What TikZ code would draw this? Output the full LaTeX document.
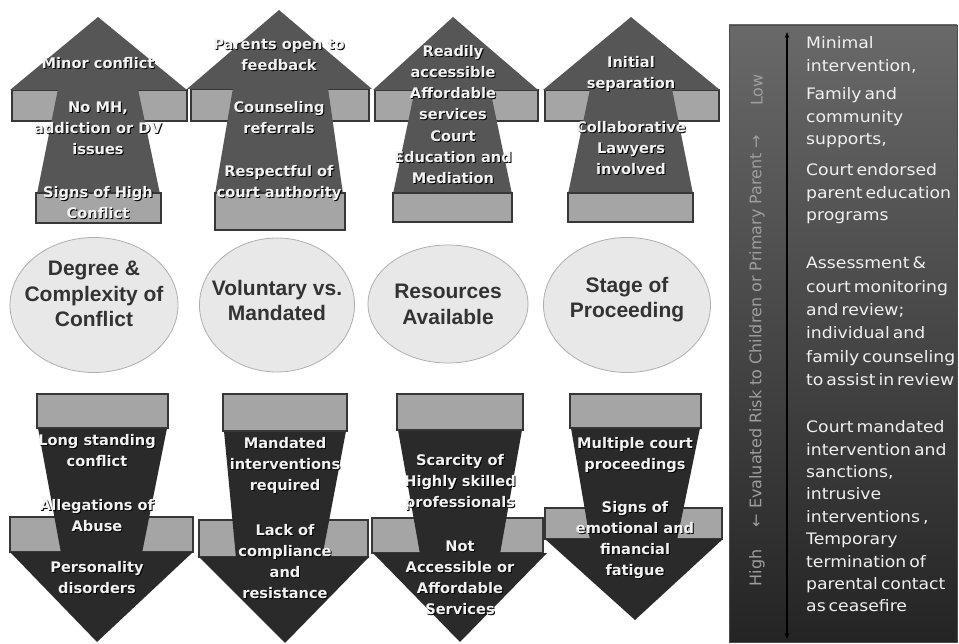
\documentclass[tikz,border=0pt]{standalone}
\usepackage{fontspec}
\setmainfont{DejaVu Sans}
\newfontfamily\circfont{Liberation Sans}
\newfontfamily\panelfont[WordSpace=0.55,FakeStretch=1.09]{DejaVu Sans}
\usetikzlibrary{shapes.geometric,arrows.meta}
\definecolor{updark}{RGB}{86,86,86}
\definecolor{downdark}{RGB}{42,42,42}
\definecolor{bandgray}{RGB}{165,165,165}
\definecolor{edgegray}{RGB}{55,55,55}
\definecolor{ovalfill}{RGB}{232,232,232}
\definecolor{ovaledge}{RGB}{175,175,175}
\definecolor{paneltop}{RGB}{105,105,105}
\definecolor{panelbot}{RGB}{36,36,36}
\newcommand\sht[3]{\node[ashadow] (#1s) at (#2) {#3}; \node[atxt] (#1) at (#2) {#3};}
\begin{document}
\begin{tikzpicture}[x=1pt,y=-1pt,
 upshape/.style={fill=updark},
 downshape/.style={fill=downdark},
 bandbox/.style={fill=bandgray,draw=edgegray,line width=1.3pt},
 oval/.style={ellipse,fill=ovalfill,draw=ovaledge,line width=0.8pt,inner sep=0pt},
 ovaltext/.style={font=\circfont\bfseries\fontsize{21}{25.5}\selectfont,text=black!80,align=center,inner sep=0pt},
 atxt/.style={font=\bfseries\fontsize{14.6}{21}\selectfont,text=white!95!black,align=center,inner sep=0pt},
 ashadow/.style={atxt,text=black,xshift=1pt,yshift=-1pt},
 paneltext/.style={font=\panelfont\fontsize{15.8}{22.5}\selectfont,text=white!94!black,align=left,anchor=west,inner sep=0pt},
 sidetext/.style={font=\fontsize{16}{18}\selectfont,text=white!62!black,rotate=90,inner sep=0pt}
]
\useasboundingbox (0,0) rectangle (959,644);
\fill[white] (0,0) rectangle (959,644);

% ---------- up arrows ----------
% arrow 1
\draw[bandbox] (12,90) rectangle (187,121);
\path[upshape] (10,90) -- (98,17) -- (187,90) -- cycle;
\path[upshape] (58,89) -- (138,89) -- (160,194) -- (37,194) -- cycle;
\draw[bandbox] (36,193) rectangle (161,223);
% arrow 2
\draw[bandbox] (191,89) rectangle (369,121);
\path[upshape] (187,89) -- (279,10) -- (372,89) -- cycle;
\path[upshape] (233,88) -- (328,88) -- (343,194) -- (215,194) -- cycle;
\draw[bandbox] (215,193) rectangle (345,230);
% arrow 3
\draw[bandbox] (375,90) rectangle (538,121);
\path[upshape] (373,90) -- (453,17) -- (538,90) -- cycle;
\path[upshape] (415,89) -- (490,89) -- (512,194) -- (393,194) -- cycle;
\draw[bandbox] (393,193) rectangle (512,222);
% arrow 4
\draw[bandbox] (545,90) rectangle (719,121);
\path[upshape] (543,90) -- (631,17) -- (720,90) -- cycle;
\path[upshape] (590,89) -- (672,89) -- (693,194) -- (568,194) -- cycle;
\draw[bandbox] (568,193) rectangle (693,222);

% ---------- down arrows ----------
% arrow 1
\draw[bandbox] (10,517) rectangle (193,552);
\path[downshape] (10,552) -- (193,552) -- (97,642) -- cycle;
\path[downshape] (38,428) -- (167,428) -- (142,553) -- (61,553) -- cycle;
\draw[bandbox] (37,394) rectangle (168,428);
% arrow 2
\draw[bandbox] (199,520) rectangle (368,557);
\path[downshape] (199,557) -- (369,557) -- (285,643) -- cycle;
\path[downshape] (224,431) -- (346,431) -- (322,558) -- (236,558) -- cycle;
\draw[bandbox] (223,394) rectangle (347,431);
% arrow 3
\draw[bandbox] (372,518) rectangle (543,553);
\path[downshape] (373,553) -- (547,553) -- (460,642) -- cycle;
\path[downshape] (398,430) -- (522,430) -- (500,554) -- (420,554) -- cycle;
\draw[bandbox] (397,394) rectangle (523,430);
% arrow 4
\draw[bandbox] (545,508) rectangle (722,539);
\path[downshape] (545,539) -- (723,539) -- (635,620) -- cycle;
\path[downshape] (571,428) -- (700,428) -- (677,540) -- (590,540) -- cycle;
\draw[bandbox] (570,394) rectangle (701,428);

% ---------- arrow texts ----------
\sht{u1a}{98,63}{Minor conflict}
\sht{u1b}{98,128}{No MH,\\addiction or DV\\issues}
\sht{u1c}{98,202.5}{Signs of High\\Conflict}
\sht{u2a}{279,55}{Parents open to\\feedback}
\sht{u2b}{279,118}{Counseling\\referrals}
\sht{u2c}{279,183}{Respectful of\\court authority}
\sht{u3a}{453,83}{Readily\\accessible\\Affordable\\services}
\sht{u3b}{453,157}{Court\\Education and\\Mediation}
\sht{u4a}{631,74}{Initial\\separation}
\sht{u4b}{631,148}{Collaborative\\Lawyers\\involved}

\sht{d1a}{97,450.5}{Long standing\\conflict}
\sht{d1b}{97,515.5}{Allegations of\\Abuse}
\sht{d1c}{97,578}{Personality\\disorders}
\sht{d2a}{285,465}{Mandated\\interventions\\required}
\sht{d2b}{285,561.5}{Lack of\\compliance\\and\\resistance}
\sht{d3a}{460,482}{Scarcity of\\Highly skilled\\professionals}
\sht{d3b}{460,577.5}{Not\\Accessible or\\Affordable\\Services}
\sht{d4a}{635,455.5}{Multiple court\\proceedings}
\sht{d4b}{635,540.5}{Signs of\\emotional and\\financial\\fatigue}

% ---------- ovals ----------
\node[oval,minimum width=168pt,minimum height=135pt] (c1) at (94,305) {};
\node[oval,minimum width=155pt,minimum height=134pt] (c2) at (277,305) {};
\node[oval,minimum width=160pt,minimum height=118pt] (c3) at (448,304) {};
\node[oval,minimum width=167pt,minimum height=135pt] (c4) at (627,305) {};
\node[ovaltext] (c1t) at (94,294) {Degree \&\\Complexity of\\Conflict};
\node[ovaltext] (c2t) at (277,300.5) {Voluntary vs.\\Mandated};
\node[ovaltext] (c3t) at (448,304.5) {Resources\\Available};
\node[ovaltext] (c4t) at (627,299.5) {Stage of\\Proceeding};

% ---------- right panel ----------
\shade[top color=paneltop,bottom color=panelbot] (729,25) rectangle (957,642);
\draw[black!70,line width=0.6pt] (729,25) rectangle (957,642);
\coordinate (vtop) at (787,32);
\coordinate (vbot) at (787,639);
\draw[line width=1.3pt,{Stealth[length=6pt,width=4.5pt]}-{Stealth[length=6pt,width=4.5pt]}] (vbot) -- (vtop);
\node[sidetext] (low) at (757,90) {Low};
\node[sidetext] (risk) at (757,331) {← Evaluated Risk to Children or Primary Parent →};
\node[sidetext] (high) at (757,568) {High};

\node[paneltext] (p1) at (806,55) {Minimal\\intervention,};
\node[paneltext] (p2) at (806,118) {Family and\\community\\supports,};
\node[paneltext] (p3) at (806,194) {Court endorsed\\parent education\\programs};
\node[paneltext,font=\panelfont\fontsize{15.8}{23.4}\selectfont] (p4) at (806,321.5) {Assessment \&\\court monitoring\\and review;\\individual and\\family counseling\\to assist in review};
\node[paneltext,font=\panelfont\fontsize{15.8}{22.4}\selectfont] (p5) at (806,516.5) {Court mandated\\intervention and\\sanctions,\\intrusive\\interventions ,\\Temporary\\termination of\\parental contact\\as ceasefire};
\end{tikzpicture}
\end{document}
